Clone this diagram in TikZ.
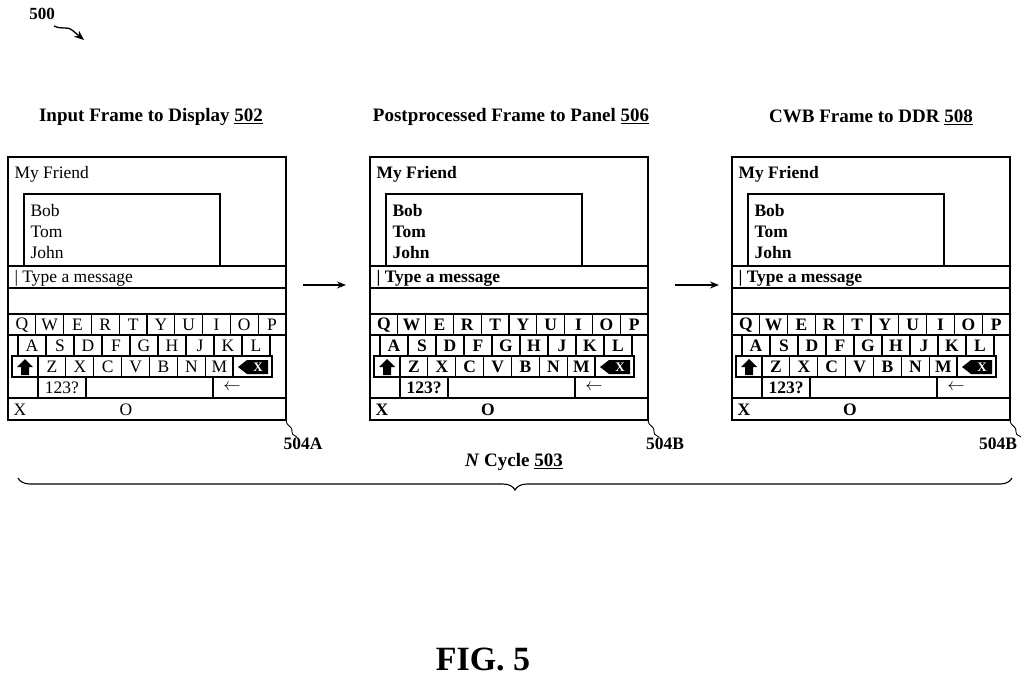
\documentclass[tikz,border=0pt]{standalone}
\usepackage{fontspec}
\setmainfont{Liberation Serif}
\usetikzlibrary{decorations.pathreplacing,arrows.meta}
\newcommand\phone[4]{%
\begin{scope}[xshift=#1pt]
\begin{scope}[line width=1.1pt,every node/.style={inner sep=0pt,font=\fontsize{17.5}{17.5}\selectfont#2}]
\draw (8,157) rectangle (286,420);
\node[anchor=west] at (14,174) {My Friend};
\draw (24,266) -- (24,194) -- (220,194) -- (220,266);
\node[anchor=west] at (30,211) {Bob};
\node[anchor=west] at (30,232) {Tom};
\node[anchor=west] at (30,253) {John};
\draw (8,266) -- (286,266) (8,288) -- (286,288) (8,314) -- (286,314);
\node[anchor=west] at (14,278) {| Type a message};
\foreach \k [count=\i from 0] in {Q,W,E,R,T,Y,U,I,O,P}{
  \draw (8+27.8*\i,314) rectangle (8+27.8*\i+27.8,335);
  \node at (8+27.8*\i+13.9,325) {\k};}
\foreach \k [count=\i from 0] in {A,S,D,F,G,H,J,K,L}{
  \draw (18+28*\i,335) rectangle (18+28*\i+28,356);
  \node at (18+28*\i+14,346) {\k};}
\draw (12,356) rectangle (38,377);
\fill (25,359) -- (33,367) -- (29,367) -- (29,375) -- (21,375) -- (21,367) -- (17,367) -- cycle;
\foreach \k [count=\i from 0] in {Z,X,C,V,B,N,M}{
  \draw (38+27.9*\i,356) rectangle (38+27.9*\i+27.9,377);
  \node at (38+27.9*\i+13.95,367) {\k};}
\draw (233,356) rectangle (272,377);
\fill (238,367) -- (247,360) -- (268,360) -- (268,374) -- (247,374) -- cycle;
\node[text=white,font=\fontsize{13}{13}\selectfont\bfseries] at (258,367) {X};
\draw (38,377) rectangle (86,398) (86,377) rectangle (213,398) (213,377) -- (213,398);
\node at (62,388) {123?};
\node at (232,387) {$\leftarrow$};
\draw (8,398) -- (286,398);
\node at (20,410) {X};
\node at (126,410) {O};
\end{scope}
\draw[line width=0.9pt] (286,420) .. controls (287,428) and (292,424) .. (292,432) .. controls (292,436) and (296,435) .. (297,437);
\node[font=\fontsize{17.5}{17.5}\selectfont\bfseries] at (#4,444) {#3};
\end{scope}}
\begin{document}
\begin{tikzpicture}[x=1pt,y=-1pt]
\useasboundingbox (0,0) rectangle (1024,679);
\node[font=\fontsize{17}{17}\selectfont\bfseries] (n500) at (42,14) {500};
\draw[-{Stealth[length=10pt,width=8pt]}, line width=1.3pt] (54,26) .. controls (62,30) and (68,26) .. (72,30) -- (84,40);
\tikzset{ttl/.style={font=\fontsize{19}{19}\selectfont\bfseries}}
\node[ttl] (t1) at (151,117) {Input Frame to Display \underline{502}};
\node[ttl] (t2) at (511,117) {Postprocessed Frame to Panel \underline{506}};
\node[ttl] (t3) at (871,117) {CWB Frame to DDR \underline{508}};
\phone{0}{}{504A}{303}
\phone{362}{\bfseries}{504B}{303}
\phone{724}{\bfseries}{504B}{274}
\coordinate (a1s) at (303,285); \coordinate (a1e) at (346,285);
\coordinate (a2s) at (675,285); \coordinate (a2e) at (719,285);
\draw[line width=1.2pt,-{Stealth[length=9pt,width=7pt]}] (a1s) -- (a1e);
\draw[line width=1.2pt,-{Stealth[length=9pt,width=7pt]}] (a2s) -- (a2e);
\draw[line width=1.1pt,decorate,decoration={brace,amplitude=12pt,aspect=0.5}] (1012,478) -- (18,478);
\node[font=\fontsize{19}{19}\selectfont\bfseries] (cyc) at (514,462) {\textit{N} Cycle \underline{503}};
\node[font=\fontsize{34}{34}\selectfont\bfseries] (fig) at (483,659) {FIG. 5};
\end{tikzpicture}
\end{document}
